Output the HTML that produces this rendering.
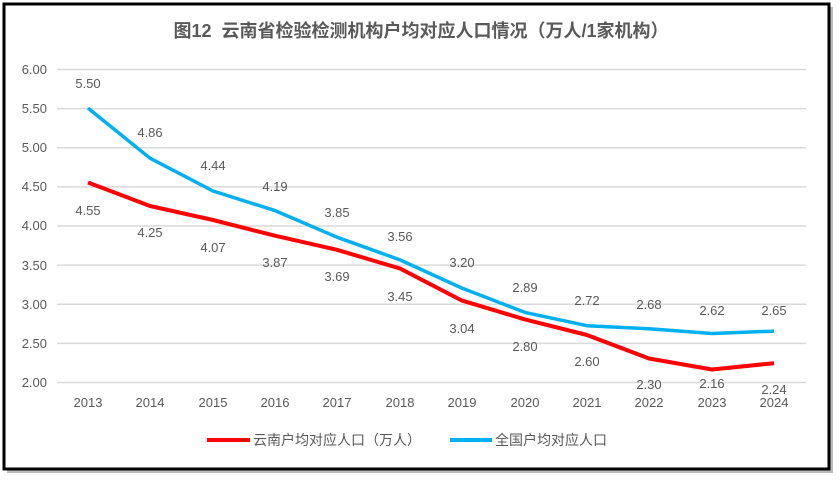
<!DOCTYPE html>
<html><head><meta charset="utf-8"><style>
body{margin:0;background:#fff;width:840px;height:480px;overflow:hidden}
text{font-family:"Liberation Sans","Noto Sans CJK SC",sans-serif;fill:#595959}
</style></head><body>
<svg width="840" height="480" viewBox="0 0 840 480">
<rect x="7" y="7" width="826" height="466" fill="#bbb"/>
<rect x="4" y="4" width="825" height="465" fill="#fff" stroke="#000" stroke-width="3"/>
<text x="421" y="37" text-anchor="middle" font-size="18" font-weight="bold" xml:space="preserve">图12  云南省检验检测机构户均对应人口情况（万人/1家机构）</text>
<g stroke="#d9d9d9" stroke-width="1.5">
<line x1="57" x2="806" y1="69.5" y2="69.5"/><line x1="57" x2="806" y1="108.6" y2="108.6"/><line x1="57" x2="806" y1="147.8" y2="147.8"/><line x1="57" x2="806" y1="186.9" y2="186.9"/><line x1="57" x2="806" y1="226" y2="226"/><line x1="57" x2="806" y1="265.1" y2="265.1"/><line x1="57" x2="806" y1="304.3" y2="304.3"/><line x1="57" x2="806" y1="343.4" y2="343.4"/><line x1="57" x2="806" y1="382.5" y2="382.5"/>
</g>
<g font-size="13" text-anchor="end">
<text x="47" y="74">6.00</text><text x="47" y="113">5.50</text><text x="47" y="152">5.00</text><text x="47" y="191">4.50</text><text x="47" y="230">4.00</text><text x="47" y="270">3.50</text><text x="47" y="309">3.00</text><text x="47" y="348">2.50</text><text x="47" y="387">2.00</text>
</g>
<g font-size="13" text-anchor="middle">
<text x="88" y="407">2013</text><text x="150" y="407">2014</text><text x="213" y="407">2015</text><text x="275" y="407">2016</text><text x="337" y="407">2017</text><text x="400" y="407">2018</text><text x="462" y="407">2019</text><text x="525" y="407">2020</text><text x="587" y="407">2021</text><text x="649" y="407">2022</text><text x="712" y="407">2023</text><text x="774" y="407">2024</text>
</g>
<polyline fill="none" stroke="#ff0000" stroke-width="4" stroke-linejoin="round" points="88,182.5 150,206 213,220 275,235.7 337,249.8 400,268.5 462,300.6 525,319.4 587,335 649,358.5 712,369.5 774,363.2"/>
<polyline fill="none" stroke="#00b0f0" stroke-width="3.5" stroke-linejoin="round" points="88,108.1 150,158.2 213,191 275,210.6 337,237.2 400,259.9 462,288.1 525,312.4 587,325.7 649,328.8 712,333.5 774,331.1"/>
<g font-size="13" text-anchor="middle">
<text x="88" y="88">5.50</text><text x="150" y="137">4.86</text><text x="213" y="170">4.44</text><text x="275" y="191">4.19</text><text x="337" y="217">3.85</text><text x="400" y="241">3.56</text><text x="462" y="267">3.20</text><text x="525" y="292">2.89</text><text x="587" y="305">2.72</text><text x="649" y="309">2.68</text><text x="712" y="315">2.62</text><text x="774" y="315">2.65</text>
<text x="88" y="215">4.55</text><text x="150" y="237">4.25</text><text x="213" y="252">4.07</text><text x="275" y="267">3.87</text><text x="337" y="281">3.69</text><text x="400" y="301">3.45</text><text x="462" y="333">3.04</text><text x="525" y="351">2.80</text><text x="587" y="366">2.60</text><text x="649" y="389">2.30</text><text x="712" y="388">2.16</text><text x="774" y="394">2.24</text>
</g>
<line x1="207" x2="250" y1="440" y2="440" stroke="#ff0000" stroke-width="4"/>
<text x="253" y="445" font-size="14">云南户均对应人口（万人）</text>
<line x1="450" x2="492" y1="440" y2="440" stroke="#00b0f0" stroke-width="4"/>
<text x="495" y="445" font-size="14">全国户均对应人口</text>
</svg>
</body></html>
